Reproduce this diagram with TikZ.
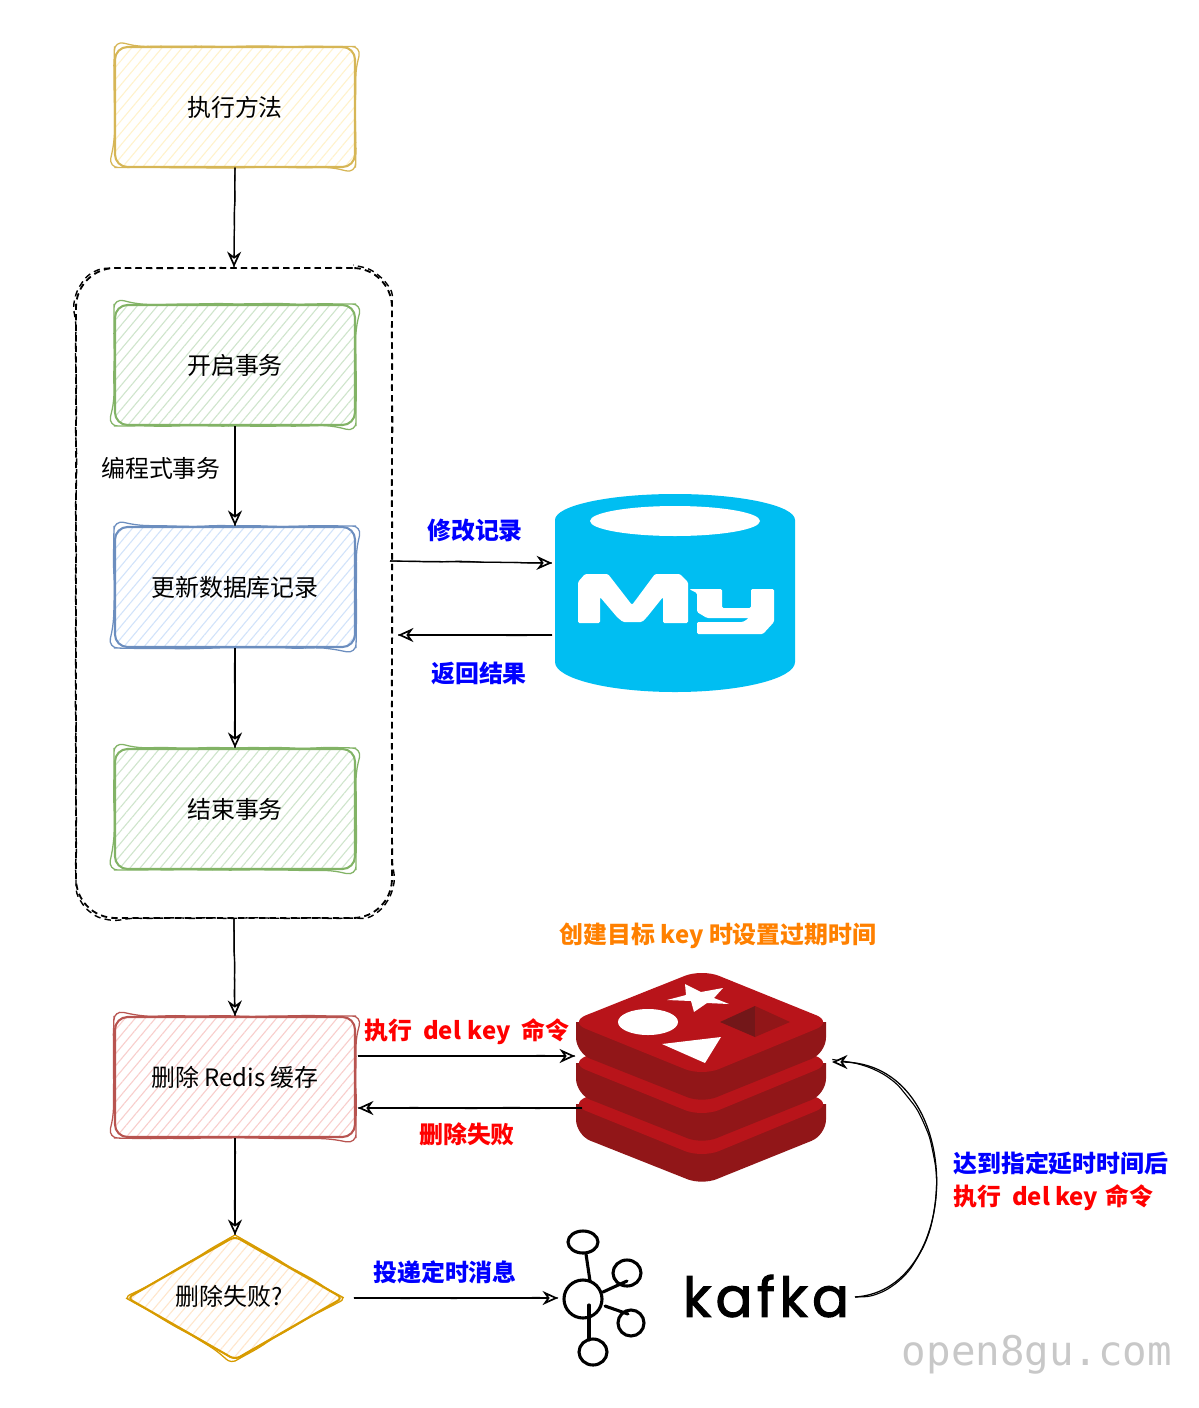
\documentclass[tikz,border=0pt]{standalone}
\usepackage{fontspec}
\setmainfont{Noto Sans CJK SC}
\newfontfamily\logofont[FakeBold=2,LetterSpace=8]{Poppins}
\newfontfamily\markfont{DejaVu Sans Mono}
\usetikzlibrary{arrows.meta}
\usetikzlibrary{patterns.meta}
\usetikzlibrary{shapes.geometric}
\usetikzlibrary{decorations.pathmorphing}
\definecolor{yellowline}{HTML}{D6B656}
\definecolor{yellowfill}{HTML}{FFF2CC}
\definecolor{greenline}{HTML}{82B366}
\definecolor{greenfill}{HTML}{CFE5CC}
\definecolor{blueline}{HTML}{6C8EBF}
\definecolor{bluefill}{HTML}{D2E3FA}
\definecolor{redline}{HTML}{B85450}
\definecolor{redfill}{HTML}{F8CECC}
\definecolor{amberline}{HTML}{D79B00}
\definecolor{amberfill}{HTML}{FFE6CC}
\definecolor{sqlblue}{HTML}{00BEF2}
\definecolor{redisface}{HTML}{B8141A}
\definecolor{redisside}{HTML}{911618}
\definecolor{redisdark}{HTML}{731719}
\definecolor{markgray}{HTML}{C8C8C8}
\definecolor{labelorange}{HTML}{FF8000}
\tikzset{
  rough/.style={decorate,decoration={random steps,segment length=11pt,amplitude=0.5pt},rounded corners=4pt},
  sketchbox/.style n args={2}{draw=#1,line width=1.5pt,rounded corners=9pt,text=black,
    minimum width=6cm,minimum height=3cm,font=\fontsize{17}{20}\selectfont,
    pattern={Lines[angle=50,distance=5.5pt,line width=0.8pt]},pattern color=#2},
  flowline/.style={-{Stealth[open,length=11pt,width=10pt,fill=white,line width=1.2pt]},black,line width=0.9pt,
    preaction={draw,-,line width=0.8pt,rough}},
  bluelabel/.style={text=blue,font=\fontsize{17}{20}\selectfont\bfseries},
  redlabel/.style={text=red,font=\fontsize{17}{20}\selectfont\bfseries},
  kafkaline/.style={draw=black,line width=2.2pt,line cap=round},
}
\pgfmathsetseed{8}
\begin{document}
\begin{tikzpicture}[x=0.025cm,y=-0.025cm]
\useasboundingbox (0,0) rectangle (1198,1408);

\node[sketchbox={yellowline}{yellowfill}] (execbox) at (235,107) {执行方法};
\node[sketchbox={greenline}{greenfill}] (beginbox) at (235,365) {开启事务};
\node[sketchbox={blueline}{bluefill}] (updatebox) at (235,587) {更新数据库记录};
\node[sketchbox={greenline}{greenfill}] (endbox) at (235,809) {结束事务};
\node[sketchbox={redline}{redfill}] (delbox) at (235,1077) {删除 Redis 缓存};
\node[sketchbox={amberline}{amberfill},diamond,rounded corners=4pt,minimum width=216*0.025cm,minimum height=124*0.025cm,inner sep=0pt,aspect=1.74] (failbox) at (235,1298) {};
\node[font=\fontsize{17}{20}\selectfont] (failtext) at (229,1296) {删除失败?};
\foreach \n/\c in {execbox/yellowline,beginbox/greenline,updatebox/blueline,endbox/greenline,delbox/redline}
{
\draw[\c,line width=0.9pt,rough,rounded corners=7pt] (\n.north) -- (\n.north east) -- (\n.south east) -- (\n.south west) -- (\n.north west) -- (\n.north);
}
\draw[amberline,line width=0.9pt,rough] (failbox.north) -- (failbox.east) -- (failbox.south) -- (failbox.west) -- (failbox.north);

\node[draw,dash pattern=on 4.5pt off 3pt,line width=1.3pt,rounded corners=28pt,minimum width=316*0.025cm,minimum height=650*0.025cm,
  postaction={draw,dash pattern=on 4.5pt off 3pt,line width=1pt,rough}] (txgroup) at (234,593) {};

% mysql
\fill[sqlblue] (555,520) arc[start angle=180,end angle=0,x radius=120,y radius=-26] -- (795,662) arc[start angle=0,end angle=-180,x radius=120,y radius=-30] -- cycle;
\fill[white] (675,521) ellipse[x radius=85,y radius=15];
\fill[white,rounded corners=1pt] (578,623) -- (578,582) -- (585,574) -- (608,574) -- (632,605) -- (655,574) -- (680,574) -- (688,582) -- (688,623) -- (663,623) -- (663,597) -- (647,617) -- (642,622) -- (623,622) -- (617,617) -- (600,597) -- (600,623) -- cycle;
\fill[white,rounded corners=1pt] (689,589) -- (722,589) -- (722,608) -- (751,608) -- (751,589) -- (774,589) -- (774,622) -- (763,634) -- (697,634) -- (697,622) -- (743,622) -- (749,618) -- (707,618) -- (697,612) -- (697,593) -- cycle;
\coordinate (txout) at (390,561);
\coordinate (mysqlin) at (552,563);
\coordinate (mysqlout) at (552,635);
\coordinate (txin) at (398,635);

% redis
\foreach \dy in {82,41,0}
{
\fill[redisside] ([yshift=-\dy*0.025cm]576,1022) [rounded corners=11pt] -- ++(0,31) -- ++(126,50) -- ++(124,-50) [sharp corners] -- ++(0,-31) -- cycle;
\fill[redisface,rounded corners=13pt] ([yshift=-\dy*0.025cm]569,1022) -- ++(133,-53) -- ++(131,53) -- ++(-131,54) -- cycle;
}
\fill[white] (685,984) -- (701,992) -- (723,988) -- (714,998) -- (729,1004) -- (707,1003) -- (694,1012) -- (691,1001) -- (667,1000) -- (686,995) -- cycle;
\fill[white] (648,1022) ellipse[x radius=30,y radius=13];
\fill[white] (662,1044) -- (721,1037) -- (705,1063) -- cycle;
\fill[redisdark] (720,1022) -- (755,1006) -- (755,1037) -- cycle;
\fill[redisside] (790,1022) -- (755,1006) -- (755,1037) -- cycle;
\coordinate (redisin) at (575,1056);
\coordinate (redisout) at (582,1108);
\coordinate (redisright) at (832,1062);
\coordinate (delin) at (358,1108);
\coordinate (delout) at (358,1056);

% kafka
\draw[kafkaline] (583,1299) circle[radius=19];
\draw[kafkaline] (583,1242) ellipse[x radius=15,y radius=11];
\draw[kafkaline] (627,1273) ellipse[x radius=14,y radius=13];
\draw[kafkaline] (631,1323) ellipse[x radius=13,y radius=13];
\draw[kafkaline] (593,1352) ellipse[x radius=14,y radius=13];
\draw[kafkaline] (586,1254) -- (590,1281);
\draw[kafkaline] (603,1292) -- (627,1281);
\draw[kafkaline] (605,1306) -- (628,1314);
\draw[kafkaline] (589,1305) -- (589,1340);
\node[font=\logofont\fontsize{39}{39}\selectfont] (kafkatext) at (766,1296) {kafka};
\coordinate (kafkain) at (558,1298);
\coordinate (kafkaout) at (855,1297);

\draw[flowline] (execbox.south) -- (txgroup.north);
\draw[flowline] (beginbox.south) -- (updatebox.north);
\draw[flowline] (updatebox.south) -- (endbox.north);
\draw[flowline] (txgroup.south) -- (delbox.north);
\draw[flowline] (delbox.south) -- (failbox.north);
\draw[flowline] (txout) -- (mysqlin);
\draw[flowline] (mysqlout) -- (txin);
\draw[flowline] (delout) -- (redisin);
\draw[flowline] (redisout) -- (delin);
\draw[flowline,shorten <=7pt] (failbox.east) -- (kafkain);
\draw[flowline] (kafkaout) .. controls (966,1290) and (966,1062) .. (redisright);

\node[font=\fontsize{17}{20}\selectfont] (txnote) at (161,468) {编程式事务};
\node[bluelabel] (sqlnote) at (475,530) {修改记录};
\node[bluelabel] (backnote) at (479,673) {返回结果};
\node[text=labelorange,font=\fontsize{17}{20}\selectfont\bfseries] (ttlnote) at (718,936) {创建目标 key 时设置过期时间};
\node[redlabel] (delnote) at (467,1032) {执行~~del~\hspace{1pt}key~~命令};
\node[redlabel] (failnote) at (467,1134) {删除失败};
\node[bluelabel] (msgnote) at (445,1272) {投递定时消息};
\node[bluelabel,anchor=west,inner sep=0pt] (delaynote) at (953,1163) {达到指定延时时间后};
\node[redlabel,anchor=west,inner sep=0pt] (againnote) at (953,1198) {执行~~del~key~\hspace{1pt}命令};
\node[text=markgray,font=\markfont\fontsize{29}{30}\selectfont] (watermark) at (1037,1355) {open8gu.com};
\end{tikzpicture}
\end{document}
